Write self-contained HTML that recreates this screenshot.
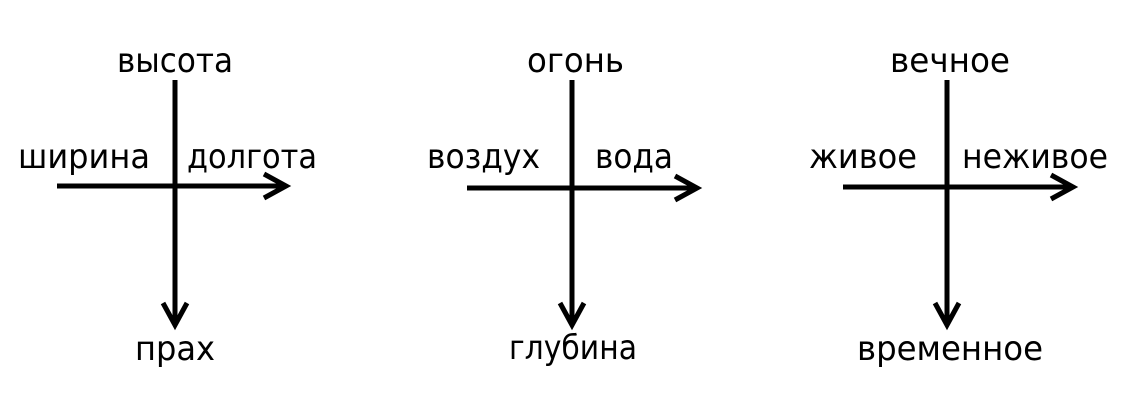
<!DOCTYPE html>
<html><head><meta charset="utf-8"><style>html,body{margin:0;padding:0;background:#fff}svg{display:block}</style></head>
<body>
<svg width="1128" height="408" viewBox="0 0 1128 408" xmlns="http://www.w3.org/2000/svg">
<g stroke="#000" stroke-width="5" fill="none" stroke-linecap="butt" stroke-linejoin="miter">
  <line x1="175" y1="80" x2="175" y2="325"/>
  <line x1="57" y1="186" x2="286" y2="186"/>
  <polyline points="264,174 286,186 264,198"/>
  <polyline points="163,303 175,325 187,303"/>

  <line x1="572" y1="80" x2="572" y2="325"/>
  <line x1="467" y1="188" x2="697" y2="188"/>
  <polyline points="675,176 697,188 675,200"/>
  <polyline points="560,303 572,325 584,303"/>

  <line x1="947" y1="80" x2="947" y2="325"/>
  <line x1="843" y1="187" x2="1073" y2="187"/>
  <polyline points="1051,175 1073,187 1051,199"/>
  <polyline points="935,303 947,325 959,303"/>
</g>
<g font-family="'DejaVu Sans', 'Liberation Sans', sans-serif" font-size="34" fill="#000">
  <text x="117" y="72" textLength="116" lengthAdjust="spacingAndGlyphs">высота</text>
  <text x="18" y="168" textLength="132" lengthAdjust="spacingAndGlyphs">ширина</text>
  <text x="187" y="168" textLength="130" lengthAdjust="spacingAndGlyphs">долгота</text>
  <text x="135" y="360" textLength="80" lengthAdjust="spacingAndGlyphs">прах</text>

  <text x="527" y="72" textLength="97" lengthAdjust="spacingAndGlyphs">огонь</text>
  <text x="427" y="168" textLength="113" lengthAdjust="spacingAndGlyphs">воздух</text>
  <text x="595" y="168" textLength="78" lengthAdjust="spacingAndGlyphs">вода</text>
  <text x="509" y="359" textLength="128" lengthAdjust="spacingAndGlyphs">глубина</text>

  <text x="890" y="72" textLength="120" lengthAdjust="spacingAndGlyphs">вечное</text>
  <text x="809" y="168" textLength="108" lengthAdjust="spacingAndGlyphs">живое</text>
  <text x="962" y="168" textLength="146" lengthAdjust="spacingAndGlyphs">неживое</text>
  <text x="857" y="360" textLength="186" lengthAdjust="spacingAndGlyphs">временное</text>
</g>
</svg>
</body></html>
